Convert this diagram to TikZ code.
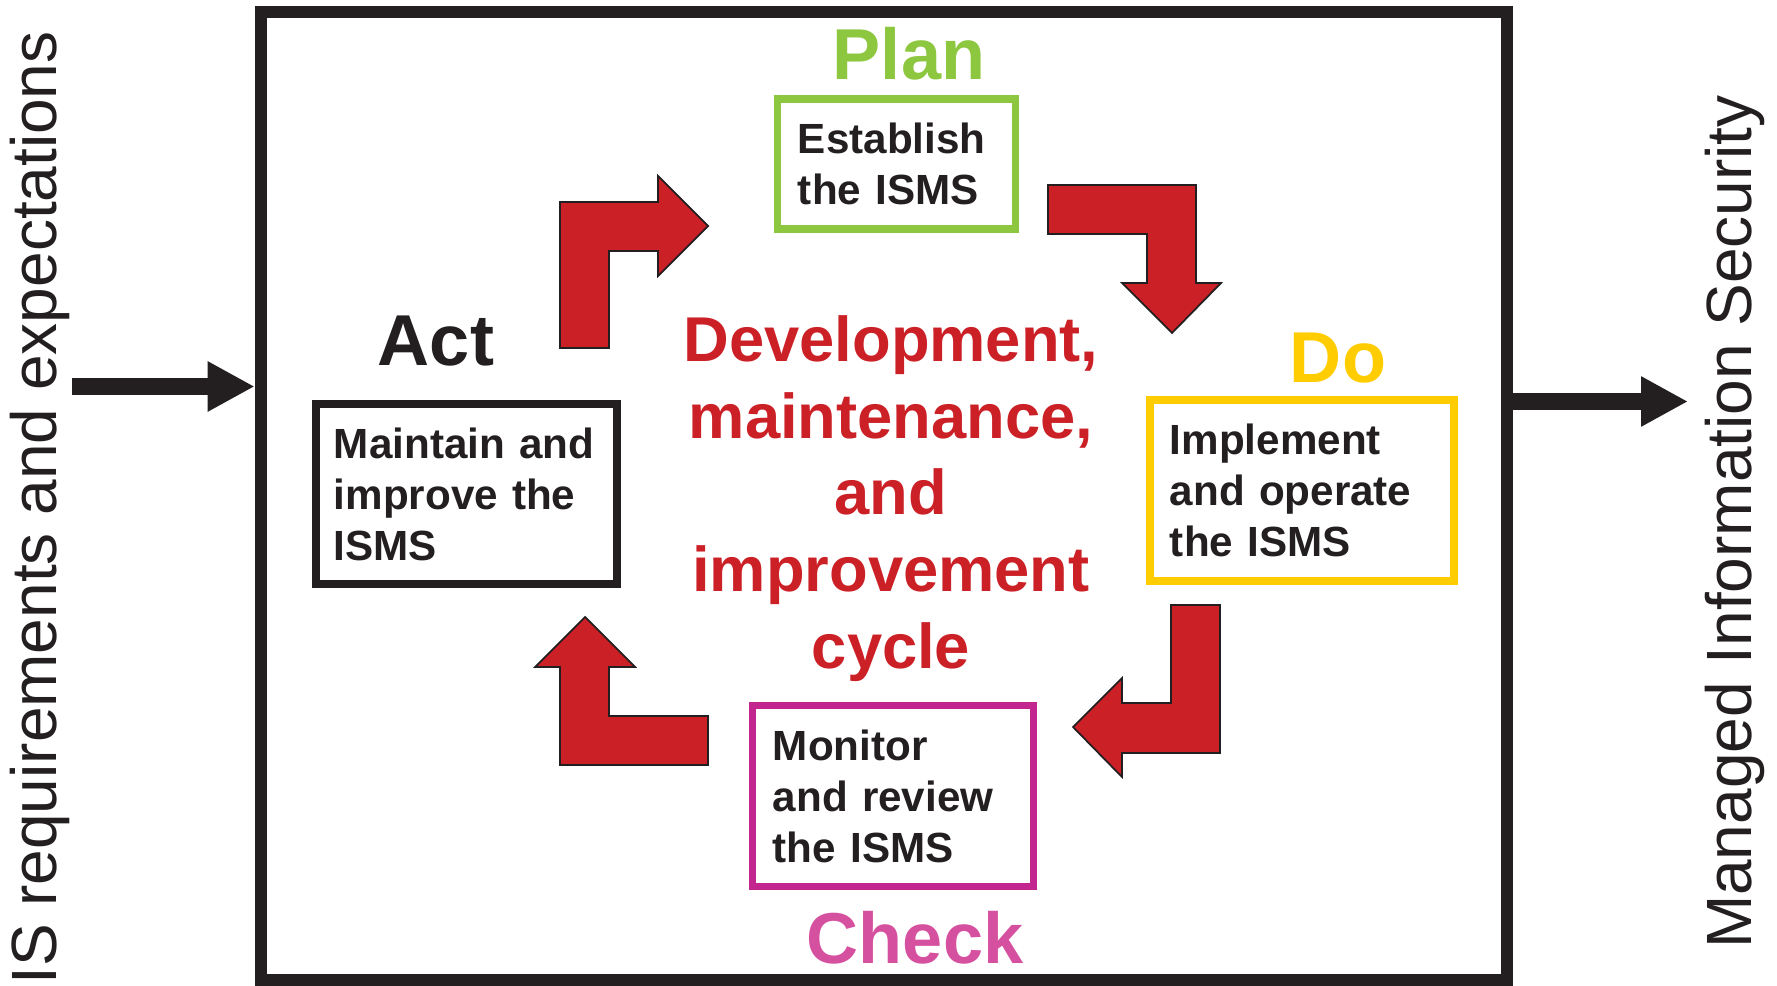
\documentclass[tikz,border=0pt]{standalone}
\usepackage{fontspec}
\setmainfont{Liberation Sans}
\usetikzlibrary{arrows.meta}

\definecolor{pdcared}{RGB}{204,32,39}
\definecolor{plangreen}{RGB}{141,198,63}
\definecolor{doyellow}{RGB}{255,204,0}
\definecolor{checkpink}{RGB}{214,80,160}
\definecolor{checkmagenta}{RGB}{196,38,143}
\definecolor{inkblack}{RGB}{35,31,32}

\tikzset{
  stagebox/.style={draw, line width=2.1pt, inner sep=0pt, align=left, text=inkblack,
    font=\bfseries\fontsize{12}{14.5}\selectfont},
  stagelabel/.style={anchor=base, font=\bfseries\fontsize{20.5}{24}\selectfont},
  cyclearrow/.style={fill=pdcared, draw=inkblack, line width=0.5pt},
  bigarrow/.style={draw=inkblack, line width=4.8pt, -{Triangle[length=4.7mm,width=4.7mm]}},
  sidetext/.style={rotate=90, anchor=base, text=inkblack, font=\fontsize{18.2}{21}\selectfont}
}

\begin{document}
\begin{tikzpicture}[x=0.01cm, y=-0.01cm]
    \useasboundingbox (0,0) rectangle (1777,986);

    % outer frame
    \node[draw=inkblack, line width=3.4pt, minimum width=12.46cm, minimum height=9.68cm, inner sep=0pt] (frame) at (884,496) {};

    % the four stages
    \node[stagebox, draw=plangreen, minimum width=2.375cm, minimum height=1.30cm, text width=1.97cm] (plan) at (896.5,164) {Establish\\the ISMS};
    \node[stagebox, draw=doyellow, minimum width=3.04cm, minimum height=1.81cm, text width=2.64cm] (do) at (1302,490.5) {Implement\\and operate\\the ISMS};
    \node[stagebox, draw=checkmagenta, minimum width=2.81cm, minimum height=1.81cm, text width=2.40cm] (check) at (893,796) {Monitor\\and review\\the ISMS};
    \node[stagebox, draw=inkblack, minimum width=3.01cm, minimum height=1.80cm, text width=2.65cm] (act) at (466.5,494) {Maintain and\\improve the\\ISMS};

    \node[stagelabel, text=plangreen] (planlbl) at (909,80) {Plan};
    \node[stagelabel, text=doyellow] (dolbl) at (1338,383) {Do};
    \node[stagelabel, text=checkpink] (checklbl) at (915,963) {Check};
    \node[stagelabel, text=inkblack] (actlbl) at (436,366) {Act};

    \node[text=pdcared, align=center, font=\bfseries\fontsize{18}{21.8}\selectfont] (cycle) at (891,498.5)
        {Development,\\maintenance,\\and\\improvement\\cycle};

    % bent arrows round the cycle
    \filldraw[cyclearrow] (560,348) -- (560,202) -- (658,202) -- (658,176) -- (708,226) -- (658,276) -- (658,251) -- (609,251) -- (609,348) -- cycle;
    \filldraw[cyclearrow] (1048,185) -- (1196,185) -- (1196,283) -- (1221,283) -- (1172,333) -- (1122,283) -- (1147,283) -- (1147,234) -- (1048,234) -- cycle;
    \filldraw[cyclearrow] (1171,605) -- (1220,605) -- (1220,753) -- (1122,753) -- (1122,777) -- (1073,727) -- (1122,678) -- (1122,703) -- (1171,703) -- cycle;
    \filldraw[cyclearrow] (708,716) -- (708,765) -- (560,765) -- (560,667) -- (535,667) -- (585,617) -- (635,667) -- (609,667) -- (609,716) -- cycle;

    % input and output
    \node[sidetext] (reqs) at (56,508) {IS requirements and expectations};
    \node[sidetext] (managed) at (1751,522) {Managed Information Security};

    \coordinate (reqin) at (72,386.5);
    \coordinate (secout) at (1688,401.5);
    \draw[bigarrow] (reqin) -- (reqin -| frame.west);
    \draw[bigarrow] (secout -| frame.east) -- (secout);
\end{tikzpicture}
\end{document}
